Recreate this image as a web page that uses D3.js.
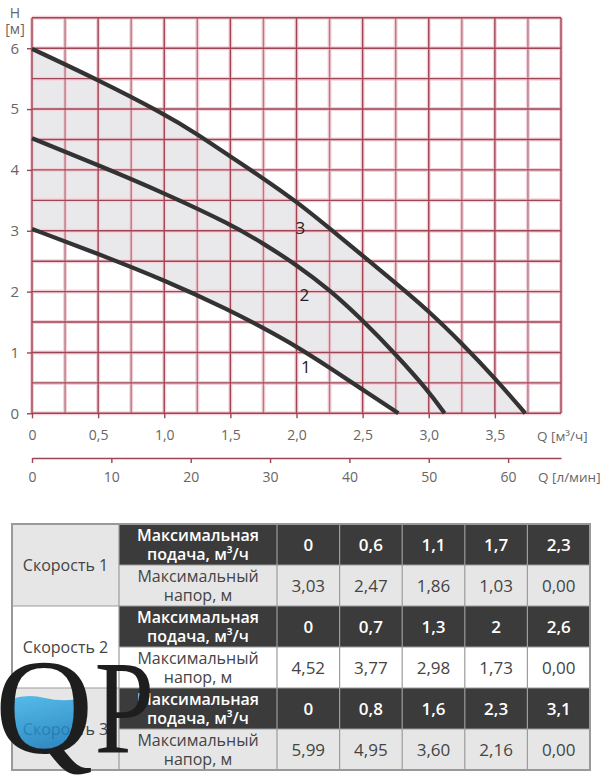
<!DOCTYPE html>
<html>
<head>
<meta charset="utf-8">
<script src="https://cdn.jsdelivr.net/npm/d3@7"></script>
<style>
  body { margin: 0; background: #fff; }
  svg { display: block; font-family: "Open Sans", "DejaVu Sans", sans-serif; }
</style>
</head>
<body>
<svg id="chart" width="612" height="776"></svg>
<script>
// pump curves (Q in m3/h, H in m)
var curve1Q = [0, 0.5, 1.0, 1.5, 1.75, 2.0, 2.25, 2.5, 2.77];
var curve1H = [3.03, 2.62, 2.19, 1.69, 1.40, 1.10, 0.75, 0.39, 0];
var curve2Q = [0, 0.5, 1.0, 1.5, 1.75, 2.0, 2.25, 2.5, 2.75, 3.0, 3.12];
var curve2H = [4.52, 4.08, 3.62, 3.11, 2.79, 2.44, 2.03, 1.53, 0.97, 0.36, 0];
var curve3Q = [0, 0.5, 1.0, 1.25, 1.5, 1.75, 2.0, 2.25, 2.5, 2.75, 3.0, 3.25, 3.5, 3.73];
var curve3H = [5.99, 5.48, 4.92, 4.59, 4.22, 3.86, 3.48, 3.04, 2.59, 2.14, 1.68, 1.15, 0.58, 0];
var curveNames = ["1", "2", "3"];
var curveLabelQ = [2.07, 2.06, 2.03];
var curveLabelH = [0.76, 1.95, 3.05];

var qTicks = [0, 0.5, 1.0, 1.5, 2.0, 2.5, 3.0, 3.5];
var hTicks = [0, 1, 2, 3, 4, 5, 6];
var lminTicks = [0, 10, 20, 30, 40, 50, 60];

// table
var speedLabels = ["Скорость 1", "Скорость 2", "Скорость 3"];
var flowValues = [[0, 0.6, 1.1, 1.7, 2.3], [0, 0.7, 1.3, 2, 2.6], [0, 0.8, 1.6, 2.3, 3.1]];
var headValues = [[3.03, 2.47, 1.86, 1.03, 0.00], [4.52, 3.77, 2.98, 1.73, 0.00], [5.99, 4.95, 3.60, 2.16, 0.00]];

var svg = d3.select("#chart");
var comma = function(s) { return String(s).replace(".", ","); };

var x = d3.scaleLinear().domain([0, 4]).range([32, 561]);
var y = d3.scaleLinear().domain([0, 6.5]).range([413.3, 17.8]);
var xl = d3.scaleLinear().domain([0, 4000 / 60]).range([32, 561]);

function pts(qs, hs) {
    return qs.map(function(q, i) { return [q, hs[i]]; });
}
var curves = [pts(curve1Q, curve1H), pts(curve2Q, curve2H), pts(curve3Q, curve3H)];

var smooth = d3.curveBasis;
var line = d3.line()
    .x(function(d) { return x(d[0]); })
    .y(function(d) { return y(d[1]); })
    .curve(smooth);
var under = d3.area()
    .x(function(d) { return x(d[0]); })
    .y0(y(0))
    .y1(function(d) { return y(d[1]); })
    .curve(smooth);

// shaded working zone between speed 1 and speed 3
svg.append("path").attr("d", under(curves[2])).attr("fill", "#e9e9eb");
svg.append("path").attr("d", under(curves[0])).attr("fill", "#fff");

// grid
var vLines = d3.range(0, 4.001, 0.25);
var hLines = d3.range(0, 6.501, 0.5);
var grid = svg.append("g");
grid.selectAll("line.vg").data(vLines).enter().append("line")
    .attr("x1", function(d) { return x(d); }).attr("x2", function(d) { return x(d); })
    .attr("y1", y(0)).attr("y2", y(6.5))
    .attr("stroke", "#f6d0d8").attr("stroke-width", 4);
grid.selectAll("line.hg").data(hLines).enter().append("line")
    .attr("y1", function(d) { return y(d); }).attr("y2", function(d) { return y(d); })
    .attr("x1", x(0)).attr("x2", x(4))
    .attr("stroke", "#f6d0d8").attr("stroke-width", 4);
grid.selectAll("line.v").data(vLines).enter().append("line")
    .attr("x1", function(d) { return x(d); }).attr("x2", function(d) { return x(d); })
    .attr("y1", y(0)).attr("y2", y(6.5))
    .attr("stroke", function(d) { return (d * 2) % 1 === 0 ? "#9a4654" : "#b27c86"; })
    .attr("stroke-width", 1.4);
grid.selectAll("line.h").data(hLines).enter().append("line")
    .attr("y1", function(d) { return y(d); }).attr("y2", function(d) { return y(d); })
    .attr("x1", x(0)).attr("x2", x(4))
    .attr("stroke", "#9a4654").attr("stroke-width", 1.4);

// curves
svg.selectAll("path.curve").data(curves).enter().append("path")
    .attr("d", line)
    .attr("fill", "none")
    .attr("stroke", "#333")
    .attr("stroke-width", 4.2);

svg.selectAll("text.cname").data(curveNames).enter().append("text")
    .attr("x", function(d, i) { return x(curveLabelQ[i]); })
    .attr("y", function(d, i) { return y(curveLabelH[i]) + 6; })
    .attr("text-anchor", "middle")
    .attr("font-size", 17)
    .attr("fill", "#222")
    .text(function(d) { return d; });

// axes
function styleAxis(g) {
    g.select(".domain").attr("stroke", "#9a4654").attr("stroke-width", 1.4);
    g.selectAll(".tick line").attr("stroke", "#9a4654").attr("stroke-width", 1.4);
    g.selectAll(".tick text").attr("fill", "#666").attr("font-size", 14)
        .attr("font-family", "'Open Sans', sans-serif");
}

var xAxis = svg.append("g").attr("transform", "translate(0," + y(0) + ")")
    .call(d3.axisBottom(x).tickValues(qTicks).tickSize(5).tickPadding(12)
        .tickFormat(function(d) { return d === 0 ? "0" : comma(d.toFixed(1)); }));
styleAxis(xAxis);
xAxis.select(".domain").remove();

var yAxis = svg.append("g").attr("transform", "translate(" + x(0) + ",0)")
    .call(d3.axisLeft(y).tickValues(hTicks).tickSize(5).tickPadding(8)
        .tickFormat(d3.format("d")));
styleAxis(yAxis);
yAxis.select(".domain").remove();
yAxis.selectAll(".tick text").attr("font-size", 15);

var lAxis = svg.append("g").attr("transform", "translate(0,458)")
    .call(d3.axisBottom(xl).tickValues(lminTicks).tickSize(5).tickSizeOuter(0).tickPadding(9));
styleAxis(lAxis);

svg.append("text").attr("x", 15).attr("y", 18).attr("text-anchor", "middle")
    .attr("font-size", 14).attr("fill", "#666").text("H");
svg.append("text").attr("x", 15).attr("y", 34).attr("text-anchor", "middle")
    .attr("font-size", 14).attr("fill", "#666").text("[м]");
svg.append("text").attr("x", 537).attr("y", 441)
    .attr("font-size", 13.5).attr("fill", "#666").text("Q [м³/ч]");
svg.append("text").attr("x", 538).attr("y", 482)
    .attr("font-size", 13.5).attr("fill", "#666").text("Q [л/мин]");

// table
var tTop = 524, rowH = 41;
var colSpeed = [12, 119], colLabel = [119, 277];
var vx = d3.scaleBand().domain(d3.range(5)).range([277, 590]);
var lightFill = ["#e6e6e6", "#fff", "#e6e6e6"];
var tbl = svg.append("g");

speedLabels.forEach(function(name, s) {
    var gy = tTop + s * rowH * 2;
    tbl.append("rect").attr("x", colSpeed[0]).attr("y", gy)
        .attr("width", colSpeed[1] - colSpeed[0]).attr("height", rowH * 2)
        .attr("fill", lightFill[s]);
    tbl.append("text").attr("x", (colSpeed[0] + colSpeed[1]) / 2).attr("y", gy + rowH + 6)
        .attr("text-anchor", "middle").attr("font-size", 16).attr("fill", "#444")
        .text(name);

    // flow row (dark)
    tbl.append("rect").attr("x", colLabel[0]).attr("y", gy)
        .attr("width", 590 - colLabel[0]).attr("height", rowH).attr("fill", "#3b3b3b");
    var lab1 = tbl.append("text").attr("text-anchor", "middle").attr("font-size", 16)
        .attr("font-weight", 600).attr("fill", "#fff");
    lab1.append("tspan").attr("x", (colLabel[0] + colLabel[1]) / 2).attr("y", gy + 17).text("Максимальная");
    lab1.append("tspan").attr("x", (colLabel[0] + colLabel[1]) / 2).attr("y", gy + 36).text("подача, м³/ч");
    tbl.selectAll(null).data(flowValues[s]).enter().append("text")
        .attr("x", function(d, i) { return vx(i) + vx.bandwidth() / 2; })
        .attr("y", gy + rowH / 2 + 6)
        .attr("text-anchor", "middle").attr("font-size", 17).attr("font-weight", 600)
        .attr("fill", "#fff")
        .text(function(d) { return comma(d); });

    // head row (light)
    tbl.append("rect").attr("x", colLabel[0]).attr("y", gy + rowH)
        .attr("width", 590 - colLabel[0]).attr("height", rowH).attr("fill", lightFill[s]);
    var lab2 = tbl.append("text").attr("text-anchor", "middle").attr("font-size", 16)
        .attr("fill", "#444");
    lab2.append("tspan").attr("x", (colLabel[0] + colLabel[1]) / 2).attr("y", gy + rowH + 17).text("Максимальный");
    lab2.append("tspan").attr("x", (colLabel[0] + colLabel[1]) / 2).attr("y", gy + rowH + 36).text("напор, м");
    tbl.selectAll(null).data(headValues[s]).enter().append("text")
        .attr("x", function(d, i) { return vx(i) + vx.bandwidth() / 2; })
        .attr("y", gy + rowH * 1.5 + 6)
        .attr("text-anchor", "middle").attr("font-size", 17)
        .attr("fill", "#444")
        .text(function(d) { return comma(d.toFixed(2)); });
});

// table rules
var rowYs = d3.range(1, 6).map(function(i) { return tTop + i * rowH; });
tbl.selectAll("line.r").data(rowYs).enter().append("line")
    .attr("x1", function(d, i) { return i % 2 === 1 ? colSpeed[0] : colLabel[0]; })
    .attr("x2", 590)
    .attr("y1", function(d) { return d; }).attr("y2", function(d) { return d; })
    .attr("stroke", "#9c9c9c").attr("stroke-width", 1.2);
var colXs = [colLabel[0], colLabel[1]].concat(d3.range(1, 5).map(function(i) { return vx(i); }));
tbl.selectAll("line.c").data(colXs).enter().append("line")
    .attr("x1", function(d) { return d; }).attr("x2", function(d) { return d; })
    .attr("y1", tTop).attr("y2", tTop + rowH * 6)
    .attr("stroke", "#9c9c9c").attr("stroke-width", 1.2);
tbl.append("rect").attr("x", colSpeed[0]).attr("y", tTop)
    .attr("width", 590 - colSpeed[0]).attr("height", rowH * 6)
    .attr("fill", "none").attr("stroke", "#999").attr("stroke-width", 2);

// QP watermark
var defs = svg.append("defs");
var grad = defs.append("linearGradient").attr("id", "water").attr("x1", 0).attr("y1", 0).attr("x2", 0.3).attr("y2", 1);
grad.append("stop").attr("offset", "0%").attr("stop-color", "#3cb6ea");
grad.append("stop").attr("offset", "100%").attr("stop-color", "#0c73b8");
defs.append("clipPath").attr("id", "qhole").append("ellipse")
    .attr("cx", 47).attr("cy", 713).attr("rx", 36).attr("ry", 40);
var logo = svg.append("g");
logo.append("path")
    .attr("clip-path", "url(#qhole)")
    .attr("d", "M5,701 Q25,693 45,698 T90,697 L90,760 L5,760 Z")
    .attr("fill", "url(#water)").attr("opacity", 0.85);
logo.append("text").attr("x", -5).attr("y", 753)
    .attr("font-family", "'Liberation Serif', 'DejaVu Serif', serif")
    .attr("font-size", 136).attr("fill", "#1e1e1e").text("Q");
logo.append("g").attr("transform", "translate(96,752) scale(0.8,1)")
    .append("text").attr("x", -2).attr("y", 0)
    .attr("font-family", "'Liberation Serif', 'DejaVu Serif', serif")
    .attr("font-size", 134).attr("fill", "#1e1e1e").text("P");
</script>
</body>
</html>
